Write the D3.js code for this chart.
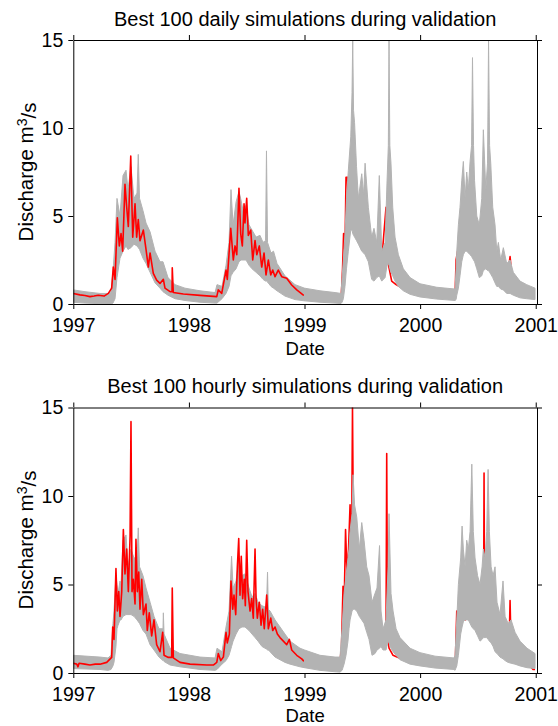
<!DOCTYPE html>
<html><head><meta charset="utf-8">
<script src="https://cdn.jsdelivr.net/npm/d3@7"></script>
<style>
body{margin:0;background:#fff}
svg{display:block}
text{font-family:"Liberation Sans",Arial,Helvetica,sans-serif;fill:#000}
</style>
</head><body>
<svg id="c" width="558" height="726"></svg>
<script>
// ---------------- DATA ----------------
const yearTicks = [1997, 1998, 1999, 2000, 2001];
const dischargeTicks = [0, 5, 10, 15];
const titles = ["Best 100 daily simulations during validation", "Best 100 hourly simulations during validation"];

// observed daily discharge [decimal year, m3/s]
const dailyObs = [
[1997.000,0.60],[1997.058,0.52],[1997.100,0.48],[1997.144,0.42],[1997.180,0.45],[1997.216,0.50],[1997.266,0.45],[1997.303,0.60],[1997.332,0.90],[1997.346,2.10],[1997.361,1.40],[1997.381,4.90],[1997.398,3.30],[1997.413,4.00],[1997.427,3.00],[1997.447,6.80],[1997.462,5.50],[1997.476,4.40],[1997.497,8.40],[1997.514,3.80],[1997.534,5.70],[1997.548,3.80],[1997.562,4.80],[1997.577,3.60],[1997.606,4.20],[1997.629,3.10],[1997.649,2.10],[1997.664,2.90],[1997.692,1.74],[1997.721,1.36],[1997.750,1.17],[1997.779,1.40],[1997.793,0.90],[1997.837,0.70],[1997.854,0.70],[1997.856,2.06],[1997.865,0.65],[1997.952,0.57],[1998.096,0.49],[1998.241,0.42],[1998.254,0.80],[1998.284,0.60],[1998.321,1.93],[1998.332,1.40],[1998.362,4.30],[1998.384,2.50],[1998.399,3.30],[1998.414,2.80],[1998.433,6.57],[1998.448,4.00],[1998.462,3.30],[1998.477,5.70],[1998.485,4.60],[1998.500,6.00],[1998.514,3.90],[1998.535,4.20],[1998.552,2.50],[1998.572,3.60],[1998.587,2.80],[1998.609,3.30],[1998.630,2.10],[1998.650,2.90],[1998.667,1.65],[1998.687,2.50],[1998.708,1.65],[1998.725,1.93],[1998.745,1.55],[1998.773,1.93],[1998.803,1.55],[1998.846,1.46],[1998.889,1.08],[1998.933,0.80],[1998.990,0.51],
[1999.100,0.45],[1999.200,0.38],[1999.316,0.30],[1999.322,1.00],[1999.329,2.00],[1999.338,4.00],[1999.350,3.00],[1999.359,7.20],[1999.372,7.20],[1999.381,4.50],[1999.411,6.00],[1999.446,5.00],[1999.498,4.50],[1999.549,3.00],[1999.601,2.30],[1999.627,2.40],[1999.662,2.00],[1999.705,5.50],[1999.718,2.50],[1999.754,1.30],[1999.792,1.10],[1999.870,0.80],[1999.999,0.55],[2000.172,0.45],[2000.302,0.40],[2000.311,2.50],[2000.324,3.00],[2000.345,2.50],[2000.389,4.00],[2000.415,4.00],[2000.432,3.00],[2000.484,4.50],[2000.536,3.50],[2000.605,3.00],[2000.648,2.50],[2000.674,1.40],[2000.717,1.50],[2000.752,1.40],[2000.778,2.70],[2000.795,1.50],[2000.864,1.00],[2000.986,0.60]
];

// envelope of the best 100 daily simulations [decimal year, min, max]
const dailySimEarly = [
[1997.000,0.10,0.80],[1997.101,0.05,0.70],[1997.231,0.02,0.60],[1997.300,0.00,0.60],[1997.326,0.00,0.70],[1997.343,0.05,1.80],[1997.361,0.30,3.50],[1997.378,1.50,6.00],[1997.404,2.60,5.00],[1997.430,3.00,7.30],[1997.456,3.30,7.60],[1997.473,3.10,6.50],[1997.499,3.20,7.80],[1997.525,3.40,6.00],[1997.551,3.30,6.30],[1997.562,3.20,8.50],[1997.573,3.10,6.00],[1997.603,2.60,5.30],[1997.629,2.30,4.60],[1997.664,1.80,4.10],[1997.707,1.20,3.00],[1997.750,0.90,2.40],[1997.776,0.70,2.40],[1997.819,0.50,1.50],[1997.880,0.30,1.10],[1997.966,0.20,0.90],[1998.096,0.10,0.75],[1998.226,0.05,0.65],[1998.243,0.05,1.10],[1998.286,0.30,1.00],[1998.321,0.60,2.20],[1998.347,1.00,3.50],[1998.364,1.60,6.50],[1998.382,1.80,4.50],[1998.408,2.00,5.80],[1998.433,2.40,6.40],[1998.451,2.50,5.90],[1998.477,2.50,5.00],[1998.494,2.50,5.60],[1998.520,2.20,4.50],[1998.546,2.00,4.20],[1998.581,1.80,3.80],[1998.615,1.60,3.90],[1998.641,1.40,3.50],[1998.663,1.30,3.60],[1998.671,1.30,8.70],[1998.680,1.25,3.50],[1998.710,1.00,2.90],[1998.732,0.90,3.00],[1998.762,0.75,2.30],[1998.831,0.45,1.60],[1998.918,0.25,1.10],[1999.000,0.18,0.90]
];
const dailySimLate = [
[1999.000,0.18,0.90],[1999.134,0.10,0.75],[1999.264,0.05,0.65],[1999.316,0.03,0.60],[1999.325,0.10,1.50],[1999.336,0.30,2.50],[1999.350,1.00,4.00],[1999.363,2.00,6.00],[1999.379,3.00,7.60],[1999.400,4.20,9.50],[1999.411,4.20,12.00],[1999.417,4.00,15.00],[1999.424,3.90,11.00],[1999.433,3.80,10.30],[1999.450,3.60,7.80],[1999.466,3.40,6.00],[1999.495,3.00,7.40],[1999.511,2.90,6.20],[1999.524,2.80,8.00],[1999.552,2.40,5.50],[1999.581,1.40,3.80],[1999.601,1.30,4.30],[1999.625,1.50,3.50],[1999.647,1.60,7.30],[1999.668,1.30,3.00],[1999.697,1.50,3.50],[1999.714,2.20,7.00],[1999.725,2.30,9.00],[1999.731,2.20,15.00],[1999.738,2.00,9.00],[1999.748,1.80,8.00],[1999.763,1.60,5.50],[1999.783,1.30,3.80],[1999.812,1.00,2.80],[1999.855,0.75,2.00],[1999.913,0.55,1.50],[1999.999,0.40,1.15],[2000.144,0.28,0.95],[2000.302,0.20,0.85],[2000.311,0.25,2.00],[2000.317,0.50,3.00],[2000.331,0.90,4.50],[2000.345,1.60,5.50],[2000.360,2.40,7.00],[2000.374,2.80,8.10],[2000.389,3.00,6.00],[2000.403,3.00,7.50],[2000.417,2.90,6.50],[2000.432,2.80,8.10],[2000.445,2.70,9.00],[2000.453,2.60,14.00],[2000.462,2.50,9.00],[2000.471,2.40,7.00],[2000.490,2.00,5.00],[2000.512,1.50,4.50],[2000.533,1.60,6.00],[2000.547,1.90,9.90],[2000.568,2.00,6.50],[2000.583,1.90,8.00],[2000.592,1.90,15.00],[2000.601,1.80,9.00],[2000.611,1.70,8.00],[2000.628,1.50,5.50],[2000.648,1.20,4.50],[2000.663,1.00,3.00],[2000.677,1.00,3.50],[2000.697,0.85,2.50],[2000.720,0.80,3.20],[2000.749,0.60,2.30],[2000.778,0.60,2.50],[2000.806,0.50,1.80],[2000.864,0.35,1.30],[2000.922,0.30,1.10],[2000.994,0.25,0.90]
];

// observed hourly discharge [decimal year, m3/s]
const hourlyObs = [
[1997.000,0.55],[1997.030,0.50],[1997.040,0.35],[1997.050,0.55],[1997.100,0.50],[1997.144,0.45],[1997.190,0.50],[1997.231,0.50],[1997.289,0.60],[1997.332,0.88],[1997.341,2.60],[1997.352,1.90],[1997.369,5.90],[1997.381,3.50],[1997.393,4.60],[1997.404,3.20],[1997.419,4.60],[1997.433,8.10],[1997.447,5.60],[1997.462,7.00],[1997.476,4.60],[1997.491,7.70],[1997.499,14.20],[1997.508,4.60],[1997.519,5.30],[1997.534,3.90],[1997.542,7.55],[1997.554,4.60],[1997.566,5.70],[1997.577,3.60],[1997.592,5.30],[1997.606,3.30],[1997.629,3.90],[1997.640,2.40],[1997.657,3.40],[1997.678,2.10],[1997.698,3.00],[1997.721,1.60],[1997.750,1.20],[1997.773,2.30],[1997.785,1.00],[1997.822,0.88],[1997.851,0.88],[1997.856,4.80],[1997.865,0.85],[1997.923,0.60],[1998.010,0.50],[1998.154,0.45],[1998.211,0.45],[1998.241,0.60],[1998.254,1.10],[1998.275,0.70],[1998.298,0.90],[1998.321,2.30],[1998.332,1.70],[1998.350,2.20],[1998.364,5.20],[1998.379,3.60],[1998.390,4.40],[1998.405,3.30],[1998.419,6.00],[1998.431,7.60],[1998.442,4.40],[1998.453,6.60],[1998.465,4.20],[1998.479,5.30],[1998.488,3.80],[1998.500,7.50],[1998.511,4.60],[1998.529,3.50],[1998.543,4.20],[1998.557,3.10],[1998.572,7.00],[1998.581,4.20],[1998.592,3.10],[1998.609,4.00],[1998.624,2.70],[1998.638,3.60],[1998.652,2.50],[1998.673,4.40],[1998.687,2.50],[1998.708,3.10],[1998.725,2.40],[1998.745,2.60],[1998.765,2.20],[1998.788,2.00],[1998.817,1.80],[1998.846,1.60],[1998.869,1.90],[1998.889,1.30],[1998.933,1.00],[1998.976,0.80],[1998.990,0.70],
[1999.100,0.50],[1999.200,0.45],[1999.290,0.40],[1999.307,0.60],[1999.320,1.50],[1999.333,4.90],[1999.342,3.50],[1999.355,8.10],[1999.368,5.50],[1999.381,7.00],[1999.394,9.50],[1999.407,6.50],[1999.415,15.00],[1999.424,7.00],[1999.446,6.00],[1999.480,5.00],[1999.524,4.50],[1999.567,3.00],[1999.610,2.50],[1999.636,2.00],[1999.653,2.20],[1999.679,1.80],[1999.705,2.00],[1999.711,12.40],[1999.718,2.00],[1999.731,1.40],[1999.766,1.00],[1999.800,0.90],[1999.913,0.60],[2000.086,0.45],[2000.293,0.35],[2000.306,1.00],[2000.317,3.50],[2000.328,2.70],[2000.354,4.00],[2000.389,3.00],[2000.432,4.50],[2000.484,3.50],[2000.533,2.50],[2000.549,3.50],[2000.553,11.30],[2000.557,4.00],[2000.588,3.50],[2000.622,2.50],[2000.674,1.50],[2000.717,1.60],[2000.769,1.30],[2000.778,4.10],[2000.787,1.30],[2000.864,1.10],[2000.925,0.60],[2000.977,0.20],[2000.994,0.20]
];

// envelope of the best 100 hourly simulations [decimal year, min, max]
const hourlySimEarly = [
[1997.000,0.25,1.00],[1997.231,0.20,0.90],[1997.300,0.15,0.85],[1997.326,0.20,1.00],[1997.343,0.40,2.80],[1997.352,0.60,3.50],[1997.369,1.50,5.50],[1997.378,2.50,5.00],[1997.387,2.70,4.50],[1997.404,3.00,5.20],[1997.413,3.00,5.00],[1997.430,3.20,7.50],[1997.456,3.30,7.80],[1997.473,3.30,6.00],[1997.499,3.30,7.00],[1997.525,3.20,6.50],[1997.551,3.00,6.50],[1997.562,2.90,8.20],[1997.573,2.80,6.00],[1997.603,2.40,5.50],[1997.629,2.20,4.80],[1997.664,1.60,4.00],[1997.698,1.30,3.20],[1997.741,0.90,2.50],[1997.776,0.70,2.50],[1997.779,0.70,3.40],[1997.785,0.65,2.20],[1997.837,0.45,1.40],[1997.923,0.35,1.10],[1998.096,0.20,0.90],[1998.226,0.15,0.85],[1998.243,0.20,1.40],[1998.286,0.50,1.20],[1998.321,0.70,2.60],[1998.347,1.00,3.50],[1998.369,1.50,6.60],[1998.382,1.80,4.80],[1998.408,2.20,5.20],[1998.433,2.50,6.50],[1998.459,2.60,5.50],[1998.485,2.60,5.60],[1998.520,2.40,4.80],[1998.546,2.20,4.30],[1998.572,2.00,4.50],[1998.598,1.80,4.00],[1998.632,1.50,3.80],[1998.671,1.35,3.70],[1998.680,1.30,5.70],[1998.687,1.30,3.60],[1998.702,1.20,3.50],[1998.745,0.90,3.00],[1998.788,0.75,2.60],[1998.831,0.60,2.20],[1998.875,0.50,1.80],[1998.961,0.35,1.40],[1999.000,0.30,1.30]
];
const hourlySimLate = [
[1999.000,0.30,1.30],[1999.134,0.15,1.00],[1999.264,0.07,0.90],[1999.307,0.05,0.90],[1999.325,0.15,2.50],[1999.342,0.50,4.50],[1999.359,1.00,5.50],[1999.376,1.80,6.50],[1999.385,2.50,7.00],[1999.394,3.00,8.00],[1999.411,3.50,9.00],[1999.420,3.60,11.20],[1999.433,3.60,9.50],[1999.452,3.50,8.80],[1999.474,3.20,7.00],[1999.495,3.00,8.50],[1999.515,2.80,7.50],[1999.538,2.30,6.00],[1999.558,1.90,5.50],[1999.584,1.00,4.00],[1999.610,1.10,4.50],[1999.627,1.30,4.80],[1999.649,1.40,7.20],[1999.662,1.50,3.50],[1999.679,1.30,2.50],[1999.705,1.30,3.00],[1999.723,1.80,6.00],[1999.731,1.70,9.00],[1999.748,1.40,4.50],[1999.766,1.20,3.50],[1999.792,1.00,2.50],[1999.826,0.75,2.00],[1999.913,0.50,1.40],[1999.999,0.40,1.15],[2000.129,0.28,0.95],[2000.293,0.20,0.85],[2000.302,0.15,1.00],[2000.317,0.40,3.00],[2000.331,1.00,5.00],[2000.351,2.20,6.50],[2000.363,2.60,8.30],[2000.374,2.90,7.00],[2000.389,3.00,6.00],[2000.403,3.00,7.50],[2000.417,3.00,7.00],[2000.432,2.80,8.00],[2000.447,2.60,11.80],[2000.460,2.50,8.00],[2000.475,2.40,6.50],[2000.497,2.10,5.50],[2000.518,1.80,5.00],[2000.536,1.90,6.00],[2000.547,2.00,7.00],[2000.562,2.00,6.50],[2000.576,2.00,8.00],[2000.588,1.90,11.50],[2000.599,1.80,8.00],[2000.614,1.70,6.00],[2000.631,1.50,5.50],[2000.648,1.20,6.00],[2000.665,1.10,4.00],[2000.691,0.90,3.30],[2000.717,0.80,5.20],[2000.735,0.70,3.20],[2000.761,0.60,2.80],[2000.787,0.55,3.00],[2000.821,0.50,2.30],[2000.864,0.40,1.80],[2000.925,0.30,1.40],[2000.994,0.25,1.10]
];

// ---------------- DRAW ----------------
const svg = d3.select("#c");
const FONT = '"Liberation Sans", Arial, Helvetica, sans-serif';
const GRAY = "#b3b3b3";

const panels = [
  {title: titles[0], top: 40,    bottom: 304, obs: dailyObs,  early: dailySimEarly,  late: dailySimLate,  titleY: 26,  dateY: 355, ylabY: 172, pad: 9},
  {title: titles[1], top: 407.5, bottom: 673, obs: hourlyObs, early: hourlySimEarly, late: hourlySimLate, titleY: 393, dateY: 721.6, ylabY: 540, pad: 8.8}
];

panels.forEach((p, i) => {
  const x = d3.scaleLinear().domain([1997, 2001.011]).range([73.3, 537]);
  const y = d3.scaleLinear().domain([0, 15]).range([p.bottom, p.top]);
  const g = svg.append("g");

  const clipId = "clip" + i;
  g.append("clipPath").attr("id", clipId).append("rect")
    .attr("x", x.range()[0]).attr("y", p.top)
    .attr("width", x.range()[1] - x.range()[0]).attr("height", p.bottom - p.top);

  const area = d3.area().x(d => x(d[0])).y0(d => y(d[1])).y1(d => y(d[2]));
  const line = d3.line().x(d => x(d[0])).y(d => y(d[1]));

  const plot = g.append("g").attr("clip-path", `url(#${clipId})`);
  plot.append("path").datum(p.early).attr("d", area)
    .attr("fill", GRAY).attr("stroke", GRAY).attr("stroke-width", 1).attr("stroke-linejoin", "round");
  plot.append("path").datum(p.obs).attr("d", line)
    .attr("fill", "none").attr("stroke", "#ff0000").attr("stroke-width", 1.6).attr("stroke-linejoin", "round");
  plot.append("path").datum(p.late).attr("d", area)
    .attr("fill", GRAY).attr("stroke", GRAY).attr("stroke-width", 1).attr("stroke-linejoin", "round");

  const styleAxis = sel => {
    sel.attr("font-size", 19.5).attr("font-family", FONT);
    sel.selectAll("path,line").attr("stroke", "#000").attr("stroke-width", 1);
    sel.selectAll("text").attr("fill", "#000");
  };

  g.append("g").attr("transform", `translate(0,${p.bottom})`)
    .call(d3.axisBottom(x).tickValues(yearTicks).tickFormat(d3.format("d")).tickSize(5).tickSizeOuter(0).tickPadding(p.pad))
    .call(styleAxis);
  g.append("g").attr("transform", `translate(0,${p.top})`)
    .call(d3.axisTop(x).tickValues(yearTicks).tickFormat("").tickSize(5).tickSizeOuter(0))
    .call(styleAxis);
  g.append("g").attr("transform", `translate(${x.range()[0]},0)`)
    .call(d3.axisLeft(y).tickValues(dischargeTicks).tickSize(5).tickSizeOuter(0).tickPadding(5))
    .call(styleAxis);
  g.append("g").attr("transform", `translate(${x.range()[1]},0)`)
    .call(d3.axisRight(y).tickValues(dischargeTicks).tickFormat("").tickSize(5).tickSizeOuter(0))
    .call(styleAxis);

  const cx = (x.range()[0] + x.range()[1]) / 2;
  g.append("text").attr("x", cx).attr("y", p.titleY).attr("text-anchor", "middle")
    .attr("font-size", 20).text(p.title);
  g.append("text").attr("x", cx).attr("y", p.dateY).attr("text-anchor", "middle")
    .attr("font-size", 18.5).text("Date");
  const yl = g.append("text").attr("transform", `translate(33,${p.ylabY}) rotate(-90)`)
    .attr("text-anchor", "middle").attr("font-size", 20.5);
  yl.append("tspan").text("Discharge m");
  yl.append("tspan").attr("dy", "-0.45em").attr("font-size", 14).text("3");
  yl.append("tspan").attr("dy", "0.45em").text("/s");
});
</script>
</body></html>
